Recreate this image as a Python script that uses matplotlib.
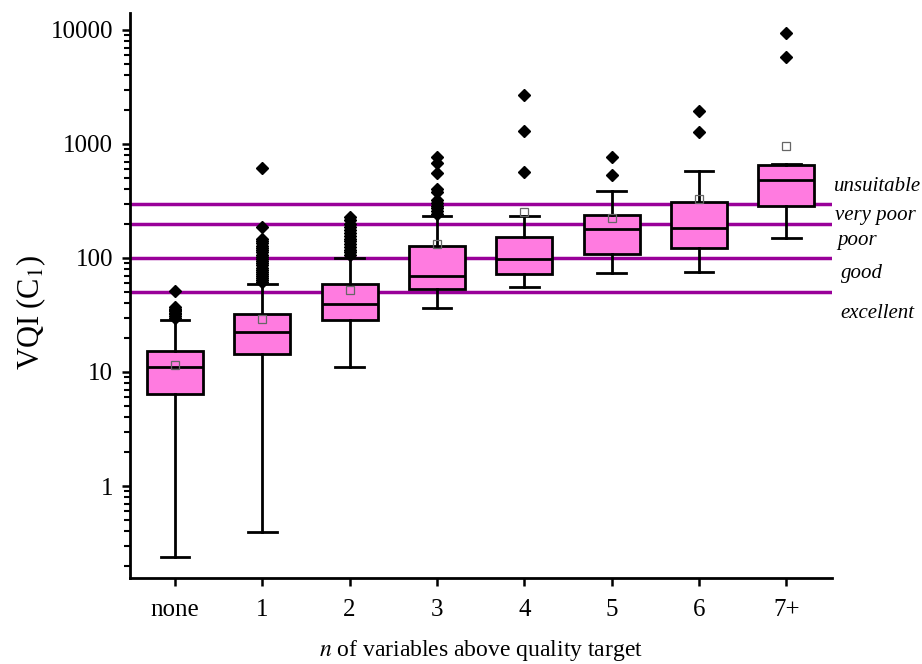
import matplotlib
matplotlib.use('Agg')
import matplotlib.pyplot as plt
from matplotlib.ticker import FuncFormatter, LogLocator, NullFormatter
import numpy as np

groups = ['none', '1', '2', '3', '4', '5', '6', '7+']
q1 = [6.4, 14.3, 28.8, 53.5, 72.4, 109, 122, 286]
med = [11.1, 22.3, 39.7, 69.5, 98.6, 181, 183, 481]
q3 = [15.3, 32.3, 58.8, 128, 153, 238, 312, 650]
whislo = [0.238, 0.395, 11.1, 36.4, 56, 73.4, 75.8, 149]
whishi = [28.6, 58.8, 100.6, 235, 235, 387, 580, 668]
means = [11.5, 29, 52.1, 132, 255, 223, 327, 955]
outliers = [
    [30, 31, 32, 33, 34, 35, 36, 37, 51.5],
    [61, 64, 67, 70, 73, 76, 79, 82, 86, 90, 94, 98, 102, 107, 112, 117,
     122, 128, 134, 140, 146, 188, 615],
    [106, 112, 118, 125, 132, 140, 148, 157, 166, 176, 188, 200, 215, 230],
    [245, 258, 272, 288, 302, 323, 382, 403, 553, 677, 774],
    [568, 1300, 2706],
    [531, 774],
    [1274, 1960],
    [5800, 9420],
]

# quality class limits and their labels
limits = [50, 100, 200, 300]
classes = ['unsuitable', 'very poor', 'poor', 'good', 'excellent']
class_y = [387, 215, 130, 66.8, 29.8]
class_x = [1.003, 1.005, 1.008, 1.014, 1.013]

plt.rcParams['font.family'] = ['Liberation Serif', 'DejaVu Serif']
plt.rcParams['mathtext.fontset'] = 'stix'

fig = plt.figure(figsize=(9.22, 6.64), dpi=100)
ax = fig.add_axes([0.141, 0.1295, 0.761, 0.8505])

stats = []
for i in range(len(groups)):
    stats.append(dict(label=groups[i], q1=q1[i], med=med[i], q3=q3[i],
                      whislo=whislo[i], whishi=whishi[i], mean=means[i],
                      fliers=outliers[i]))

for v in limits:
    ax.axhline(v, color='#990099', lw=2.5, zorder=1)

ax.bxp(stats, positions=np.arange(len(groups)), widths=0.64, capwidths=0.33,
       patch_artist=True, showmeans=True,
       boxprops=dict(facecolor='#ff7be0', edgecolor='black', linewidth=2),
       medianprops=dict(color='black', linewidth=2),
       whiskerprops=dict(color='black', linewidth=2),
       capprops=dict(color='black', linewidth=2),
       flierprops=dict(marker='D', markerfacecolor='black',
                       markeredgecolor='black', markersize=6.5),
       meanprops=dict(marker='s', markerfacecolor='none',
                      markeredgecolor='#666666', markeredgewidth=0.9,
                      markersize=6),
       zorder=2)

ax.set_yscale('log')
ax.set_ylim(0.156, 14000)
ax.set_xlim(-0.515, 7.52)
ax.yaxis.set_major_locator(LogLocator(base=10, numticks=10))
ax.yaxis.set_minor_locator(LogLocator(base=10, subs=np.arange(2, 10), numticks=10))
ax.yaxis.set_major_formatter(FuncFormatter(lambda v, p: f'{v:g}'))
ax.yaxis.set_minor_formatter(NullFormatter())

ax.set_xticks(np.arange(len(groups)))
ax.set_xticklabels(groups)

for s in ['top', 'right']:
    ax.spines[s].set_visible(False)
for s in ['left', 'bottom']:
    ax.spines[s].set_linewidth(2)

ax.tick_params(axis='both', which='major', direction='out', length=6,
               width=1.8, labelsize=18, pad=6)
ax.tick_params(axis='y', which='minor', direction='out', length=4, width=1.5)
ax.tick_params(axis='x', pad=9)

ax.set_ylabel('VQI (C$_1$)', fontsize=22)
ax.yaxis.set_label_coords(-0.117, 0.47)
ax.set_xlabel('$\\mathit{n}$ of variables above quality target', fontsize=17,
              labelpad=12)

trans = ax.get_yaxis_transform()
for name, x, y in zip(classes, class_x, class_y):
    ax.text(x, y, name, transform=trans, fontsize=15, style='italic',
            va='baseline', ha='left', clip_on=False)

fig.savefig('out.png', dpi=100)
